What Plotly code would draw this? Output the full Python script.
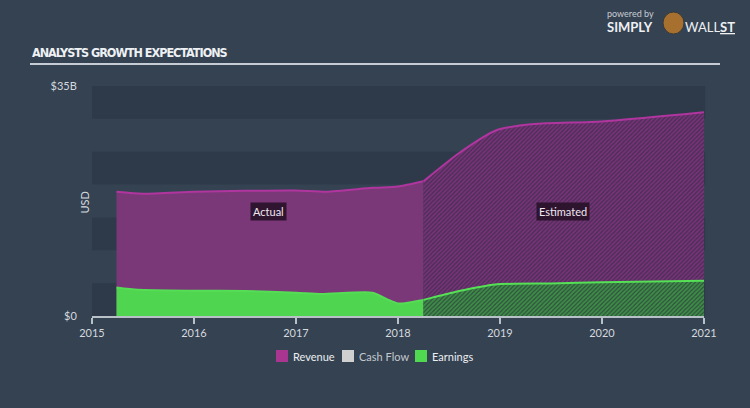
import plotly.graph_objects as go

# ---- data (USD billions, x in decimal years) ----
rev_act_x = [2015.24, 2015.5, 2016.0, 2016.5, 2017.0, 2017.3, 2017.75, 2018.0, 2018.25]
rev_act_y = [18.9, 18.6, 18.9, 19.05, 19.1, 18.9, 19.5, 19.7, 20.5]
rev_est_x = [2018.25, 2018.6, 2018.97, 2019.33, 2020.0, 2021.0]
rev_est_y = [20.5, 24.8, 28.3, 29.2, 29.6, 31.0]

earn_act_x = [2015.24, 2015.45, 2016.0, 2016.5, 2017.0, 2017.25, 2017.75, 2017.9, 2018.0, 2018.25]
earn_act_y = [4.35, 4.0, 3.85, 3.8, 3.55, 3.35, 3.55, 2.5, 1.9, 2.45]
earn_est_x = [2018.25, 2018.6, 2018.95, 2019.5, 2020.0, 2021.0]
earn_est_y = [2.45, 3.8, 4.8, 4.95, 5.15, 5.35]

year_ticks = [2015, 2016, 2017, 2018, 2019, 2020, 2021]
year_labels = ["2015", "2016", "2017", "2018", "2019", "2020", "2021"]
y_ticks = [0, 35]
y_labels = ["$0", "$35B"]
legend_names = ["Revenue", "Cash Flow", "Earnings"]
legend_colors = ["#a8358f", "#d0d0d0", "#4fd850"]
legend_text_colors = ["#eceef0", "#c4c8cc", "#eceef0"]

BG = "#344252"
DARK = "#2e3a4a"
FONT = "Lato, Open Sans, sans-serif"

# plot area in pixels: x 92..704, y 86..316
def px(xp):
    return (xp - 92) / 612.0

def py(yp):
    return (316 - yp) / 230.0

fig = go.Figure()

# revenue
fig.add_trace(go.Scatter(x=rev_act_x, y=rev_act_y, mode="lines", fill="tozeroy",
                         line=dict(color="#b0359f", width=2, shape="spline", smoothing=0.6),
                         fillcolor="#7b3878", showlegend=False, hoverinfo="skip"))
fig.add_trace(go.Scatter(x=rev_est_x, y=rev_est_y, mode="lines", fill="tozeroy",
                         line=dict(color="#b0359f", width=2, shape="spline", smoothing=0.6),
                         fillpattern=dict(shape="/", fgcolor="#a8379c", bgcolor="#4a2e56",
                                          size=3, solidity=0.55),
                         showlegend=False, hoverinfo="skip"))
# earnings
fig.add_trace(go.Scatter(x=earn_act_x, y=earn_act_y, mode="lines", fill="tozeroy",
                         line=dict(color="#55dd55", width=2, shape="spline", smoothing=0.6),
                         fillcolor="#4fd54f", showlegend=False, hoverinfo="skip"))
fig.add_trace(go.Scatter(x=earn_est_x, y=earn_est_y, mode="lines", fill="tozeroy",
                         line=dict(color="#55e055", width=2, shape="spline", smoothing=0.6),
                         fillpattern=dict(shape="/", fgcolor="#4ccc50", bgcolor="#30503f",
                                          size=3, solidity=0.6),
                         showlegend=False, hoverinfo="skip"))

# background bands
for lo in [0, 10, 20, 30]:
    fig.add_shape(type="rect", xref="paper", yref="y", x0=0, x1=1.002, y0=lo, y1=lo + 5,
                  fillcolor=DARK, line=dict(width=0), layer="below")

# title + underline
fig.add_annotation(xref="paper", yref="paper", x=px(30), y=py(53), xanchor="left", yanchor="middle",
                   text='<b><span style="letter-spacing:-1px">ANALYSTS GROWTH EXPECTATIONS</span></b>',
                   showarrow=False,
                   font=dict(family="Liberation Sans Narrow, DejaVu Sans Condensed, sans-serif",
                             size=12.5, color="#eef1f4"))
fig.add_shape(type="line", xref="paper", yref="paper", x0=px(30), x1=px(720), y0=py(64), y1=py(64),
              line=dict(color="#c5ccd4", width=2))

# logo text
fig.add_annotation(xref="paper", yref="paper", x=px(605), y=py(13), xanchor="left", yanchor="middle",
                   text="powered by", showarrow=False, font=dict(family=FONT, size=9, color="#c8ccd2"))
fig.add_annotation(xref="paper", yref="paper", x=px(605), y=py(27), xanchor="left", yanchor="middle",
                   text="<b>SIMPLY</b>", showarrow=False, font=dict(family=FONT, size=13, color="#eef0f2"))
fig.add_shape(type="circle", xref="paper", yref="paper",
              x0=px(663), x1=px(684), y0=py(34), y1=py(12),
              fillcolor="#a8702e", line=dict(color="#3a3a3a", width=1))
fig.add_annotation(xref="paper", yref="paper", x=px(683), y=py(27), xanchor="left", yanchor="middle",
                   text="WALL<u><b>ST</b></u>", showarrow=False, font=dict(family=FONT, size=13, color="#eef0f2"))

# Actual / Estimated labels
fig.add_annotation(x=2016.735, y=15.9, text="Actual", showarrow=False,
                   font=dict(family=FONT, size=11, color="#f0e8f0"),
                   bgcolor="rgba(40,18,40,0.9)", borderpad=2)
fig.add_annotation(x=2019.62, y=15.9, text="Estimated", showarrow=False,
                   font=dict(family=FONT, size=11, color="#f0e8f0"),
                   bgcolor="rgba(40,18,40,0.9)", borderpad=2)

# USD label
fig.add_annotation(xref="paper", yref="paper", x=px(75), y=py(203),
                   text="USD", textangle=-90, showarrow=False,
                   font=dict(family=FONT, size=11, color="#d5d9de"))

# legend (squares + labels)
sq_x = [276, 342, 415]
for name, col, tcol, x0 in zip(legend_names, legend_colors, legend_text_colors, sq_x):
    fig.add_shape(type="rect", xref="paper", yref="paper", x0=px(x0), x1=px(x0 + 12),
                  y0=py(362), y1=py(350), fillcolor=col, line=dict(width=0))
    fig.add_annotation(xref="paper", yref="paper", x=px(x0 + 15), y=py(356), xanchor="left",
                       yanchor="middle", text=name, showarrow=False,
                       font=dict(family=FONT, size=11, color=tcol))

fig.update_layout(
    width=750, height=408,
    margin=dict(l=92, r=46, t=86, b=92),
    paper_bgcolor=BG, plot_bgcolor=BG,
    font=dict(family=FONT, size=11, color="#d5d9de"),
    showlegend=False,
    xaxis=dict(range=[2015, 2021], tickvals=year_ticks, ticktext=year_labels,
               showgrid=False, zeroline=False, showline=True, linecolor="#b8c0c8", linewidth=1.5,
               ticks="outside", ticklen=6, tickcolor="#b8c0c8", tickwidth=1.5,
               tickfont=dict(size=11, color="#d5d9de"), fixedrange=True),
    yaxis=dict(range=[0, 35], tickvals=y_ticks, ticktext=y_labels, showgrid=False,
               zeroline=False, showline=False, ticks="outside", ticklen=12,
               tickcolor="rgba(0,0,0,0)", tickfont=dict(size=11, color="#d5d9de"), fixedrange=True),
)

fig.write_html("out.html")
